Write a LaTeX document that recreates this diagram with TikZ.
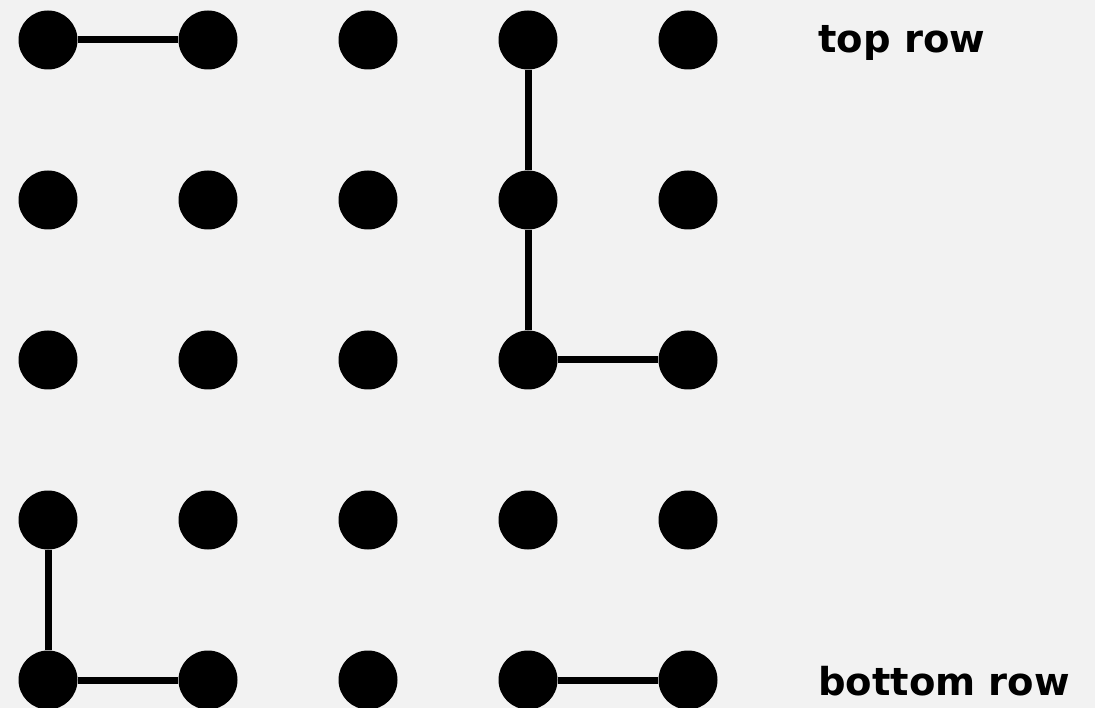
\documentclass[tikz,border=0pt]{standalone}
\usepackage{fontspec}
\newfontfamily\labelfont{DejaVu Sans}
\definecolor{bgcol}{HTML}{F2F2F2}

\begin{document}
\begin{tikzpicture}[x=1pt,y=-1pt,
    dot/.style={circle,fill=black,inner sep=0pt,minimum size=59pt},
    link/.style={line width=7pt},
    rowlabel/.style={anchor=base west,inner sep=0pt,font=\labelfont\bfseries\fontsize{38.5}{40}\selectfont}]
        \fill[bgcol] (0,0) rectangle (1095,708);
        \useasboundingbox (0,0) rectangle (1095,708);
        \foreach \c in {0,...,4} \foreach \r in {0,...,4}
            \node[dot] (d\c\r) at (48+160*\c,40+160*\r) {};
        \draw[link] (d00)--(d10);
        \draw[link] (d30)--(d31)--(d32)--(d42);
        \draw[link] (d03)--(d04)--(d14);
        \draw[link] (d34)--(d44);
        \node[rowlabel] (toplbl) at (818,53) {top row};
        \node[rowlabel] (botlbl) at (818,695) {bottom row};
    \end{tikzpicture}
\end{document}
